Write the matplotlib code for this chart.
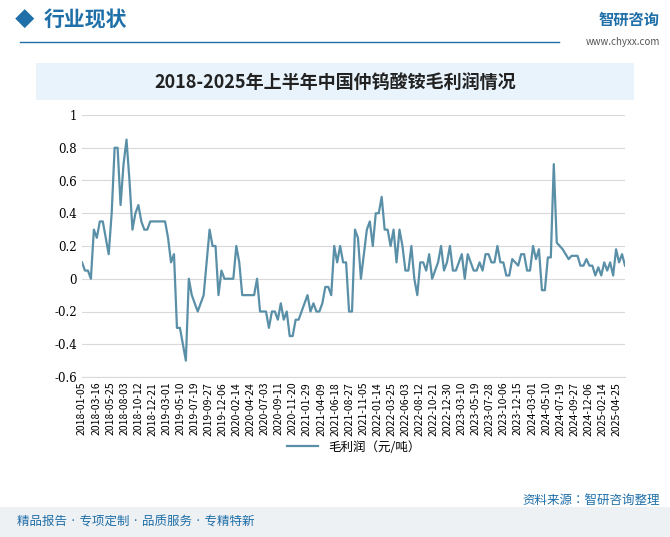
import matplotlib.pyplot as plt
from matplotlib import font_manager
import numpy as np

cjk = [f.name for f in font_manager.fontManager.ttflist if 'CJK' in f.name]
plt.rcParams['font.family'] = (cjk[:1] if cjk else []) + ['DejaVu Sans']

margin = [0.10, 0.05, 0.05, 0.00, 0.30, 0.25, 0.35, 0.35, 0.25, 0.15,
          0.40, 0.80, 0.80, 0.45, 0.70, 0.85, 0.60, 0.30, 0.40, 0.45,
          0.35, 0.30, 0.30, 0.35, 0.35, 0.35, 0.35, 0.35, 0.35, 0.25,
          0.10, 0.15, -0.30, -0.30, -0.40, -0.50, 0.00, -0.10, -0.15, -0.20,
          -0.15, -0.10, 0.10, 0.30, 0.20, 0.20, -0.10, 0.05, 0.00, 0.00,
          0.00, 0.00, 0.20, 0.10, -0.10, -0.10, -0.10, -0.10, -0.10, 0.00,
          -0.20, -0.20, -0.20, -0.30, -0.20, -0.20, -0.25, -0.15, -0.25, -0.20,
          -0.35, -0.35, -0.25, -0.25, -0.20, -0.15, -0.10, -0.20, -0.15, -0.20,
          -0.20, -0.15, -0.05, -0.05, -0.10, 0.20, 0.10, 0.20, 0.10, 0.10,
          -0.20, -0.20, 0.30, 0.25, 0.00, 0.15, 0.30, 0.35, 0.20, 0.40,
          0.40, 0.50, 0.30, 0.30, 0.20, 0.30, 0.10, 0.30, 0.20, 0.05,
          0.05, 0.20, 0.00, -0.10, 0.10, 0.10, 0.05, 0.15, 0.00, 0.05,
          0.10, 0.20, 0.05, 0.10, 0.20, 0.05, 0.05, 0.10, 0.15, 0.00,
          0.15, 0.10, 0.05, 0.05, 0.10, 0.05, 0.15, 0.15, 0.10, 0.10,
          0.20, 0.10, 0.10, 0.02, 0.02, 0.12, 0.10, 0.08, 0.15, 0.15,
          0.05, 0.05, 0.20, 0.12, 0.18, -0.07, -0.07, 0.13, 0.13, 0.70,
          0.22, 0.20, 0.18, 0.15, 0.12, 0.14, 0.14, 0.14, 0.08, 0.08,
          0.12, 0.08, 0.08, 0.02, 0.07, 0.02, 0.10, 0.05, 0.10, 0.02,
          0.18, 0.10, 0.15, 0.08]

tick_labels = ['2018-01-05', '2018-03-16', '2018-05-25', '2018-08-03', '2018-10-12',
               '2018-12-21', '2019-03-01', '2019-05-10', '2019-07-19', '2019-09-27',
               '2019-12-06', '2020-02-14', '2020-04-24', '2020-07-03', '2020-09-11',
               '2020-11-20', '2021-01-29', '2021-04-09', '2021-06-18', '2021-08-27',
               '2021-11-05', '2022-01-14', '2022-03-25', '2022-06-03', '2022-08-12',
               '2022-10-21', '2022-12-30', '2023-03-10', '2023-05-19', '2023-07-28',
               '2023-10-06', '2023-12-15', '2024-03-01', '2024-05-10', '2024-07-19',
               '2024-09-27', '2024-12-06', '2025-02-14', '2025-04-25']

fig = plt.figure(figsize=(6.7, 5.37), dpi=100)
ax = fig.add_axes([82/670, 1-377/537, 543/670, 262/537])

x = np.arange(len(margin))
ax.plot(x, margin, color='#5a8fa8', lw=1.6, label='毛利润（元/吨）')
ax.set_ylim(-0.6, 1)
ax.set_yticks(np.arange(-0.6, 1.01, 0.2))
ax.set_yticklabels(['-0.6', '-0.4', '-0.2', '0', '0.2', '0.4', '0.6', '0.8', '1'],
                   fontsize=8.5, family='DejaVu Serif')
ax.set_xlim(0, len(margin) - 1)
ax.set_xticks(np.arange(len(tick_labels)) * 4.74)
ax.set_xticklabels(tick_labels, rotation=90, fontsize=7.5)
ax.grid(axis='y', color='#d9d9d9', lw=0.8)
ax.tick_params(length=0)
for s in ['top', 'right', 'left']:
    ax.spines[s].set_visible(False)
ax.spines['bottom'].set_color('#d9d9d9')
ax.legend(loc='upper center', bbox_to_anchor=(0.5, -0.2), frameon=False, fontsize=9,
          handlelength=2.5)

# header
fig.text(0.022, 1-20/537, '◆', color='#1f6fa8', fontsize=14, va='center')
fig.text(0.065, 1-20/537, '行业现状', color='#1f6fa8', fontsize=15, va='center', weight='bold')
fig.add_artist(plt.Line2D([0.03, 0.835], [1-42/537]*2, color='#1f6fa8', lw=1))
fig.text(0.985, 1-20/537, '智研咨询', color='#1f6fa8', fontsize=11, ha='right', va='center', weight='bold')
fig.text(0.985, 1-42/537, 'www.chyxx.com', color='#555555', fontsize=7, ha='right', va='center')
fig.add_artist(plt.Rectangle((36/670, 1-100/537), 598/670, 37/537, color='#e8f3fb', lw=0))
fig.text(0.5, 1-82/537, '2018-2025年上半年中国仲钨酸铵毛利润情况', fontsize=13, ha='center',
         va='center', weight='bold', color='#222222')

# footer
fig.text(0.985, 1-500/537, '资料来源：智研咨询整理', fontsize=9, ha='right', va='center', color='#1f6fa8')
fig.add_artist(plt.Rectangle((0, 0), 1, 30/537, color='#eef1f4', lw=0))
fig.text(0.025, 15/537, '精品报告 · 专项定制 · 品质服务 · 专精特新', fontsize=9, va='center', color='#1f6fa8')

fig.savefig('out.png', dpi=100)
